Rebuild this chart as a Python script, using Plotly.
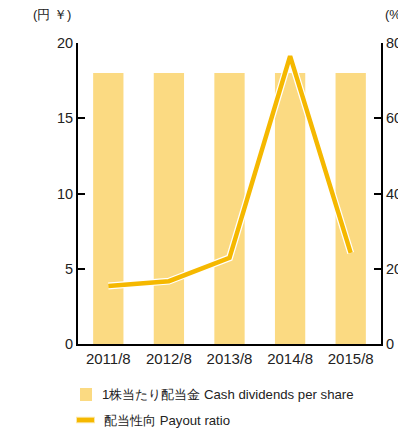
import plotly.graph_objects as go

categories = ["2011/8", "2012/8", "2013/8", "2014/8", "2015/8"]
dividends = [18, 18, 18, 18, 18]
payout = [15.4, 16.7, 22.9, 76.5, 24.2]
left_ticks = [0, 5, 10, 15, 20]
right_ticks = [0, 20, 40, 60, 80]
bar_name = "1株当たり配当金 Cash dividends per share"
line_name = "配当性向 Payout ratio"

BAR = "#FBDA82"
LINE = "#F5B800"
FONT = "Liberation Sans, Arial, sans-serif"

fig = go.Figure()
fig.add_trace(go.Bar(x=categories, y=dividends, marker=dict(color=BAR, line=dict(width=0)),
                     name=bar_name, yaxis="y", showlegend=False))
fig.add_trace(go.Scatter(x=categories, y=payout, mode="lines", yaxis="y2",
                         line=dict(color="white", width=7), showlegend=False, hoverinfo="skip"))
fig.add_trace(go.Scatter(x=categories, y=payout, mode="lines", yaxis="y2",
                         line=dict(color=LINE, width=4.5), name=line_name, showlegend=False))

# hand-placed legend (paper coordinates)
shapes = [
    dict(type="rect", xref="paper", yref="paper", x0=0.0066, x1=0.0462, y0=-0.1894, y1=-0.1462,
         fillcolor=BAR, line=dict(width=0)),
    dict(type="line", xref="paper", yref="paper", x0=-0.0066, x1=0.0561, y0=-0.2525, y1=-0.2525,
         line=dict(color="#FBE7A8", width=6.5)),
    dict(type="line", xref="paper", yref="paper", x0=-0.0033, x1=0.0528, y0=-0.2525, y1=-0.2525,
         line=dict(color=LINE, width=4.5)),
]

fig.update_layout(
    width=398, height=424,
    margin=dict(l=70, r=25, t=35, b=88),
    paper_bgcolor="white", plot_bgcolor="white",
    font=dict(family=FONT, size=13, color="#222"),
    bargap=0.5,
    showlegend=False,
    shapes=shapes,
    xaxis=dict(showgrid=False, showline=True, linecolor="black", linewidth=2,
               ticks="", tickfont=dict(size=15), zeroline=False, automargin=False),
    yaxis=dict(range=[0, 20], tickvals=left_ticks, showgrid=False, zeroline=False,
               showline=True, linecolor="black", linewidth=2, ticks="inside",
               ticklen=7, tickwidth=2, tickcolor="black", tickfont=dict(size=14.5),
               automargin=False),
    yaxis2=dict(range=[0, 80], tickvals=right_ticks, overlaying="y", side="right",
                showgrid=False, zeroline=False, showline=True, linecolor="black",
                linewidth=2, ticks="inside", ticklen=7, tickwidth=2, tickcolor="black",
                tickfont=dict(size=14.5), automargin=False),
    annotations=[
        dict(text="(円 ￥)", xref="paper", yref="paper", x=-0.086, y=1.096,
             xanchor="center", yanchor="middle", showarrow=False, font=dict(size=13)),
        dict(text="(%)", xref="paper", yref="paper", x=1.0066, y=1.096,
             xanchor="left", yanchor="middle", showarrow=False, font=dict(size=13)),
        dict(text=bar_name, xref="paper", yref="paper", x=0.0726, y=-0.1694,
             xanchor="left", yanchor="middle", showarrow=False, font=dict(size=13.2)),
        dict(text=line_name, xref="paper", yref="paper", x=0.0792, y=-0.2525,
             xanchor="left", yanchor="middle", showarrow=False, font=dict(size=13.2)),
    ],
)

fig.write_html("out.html")
